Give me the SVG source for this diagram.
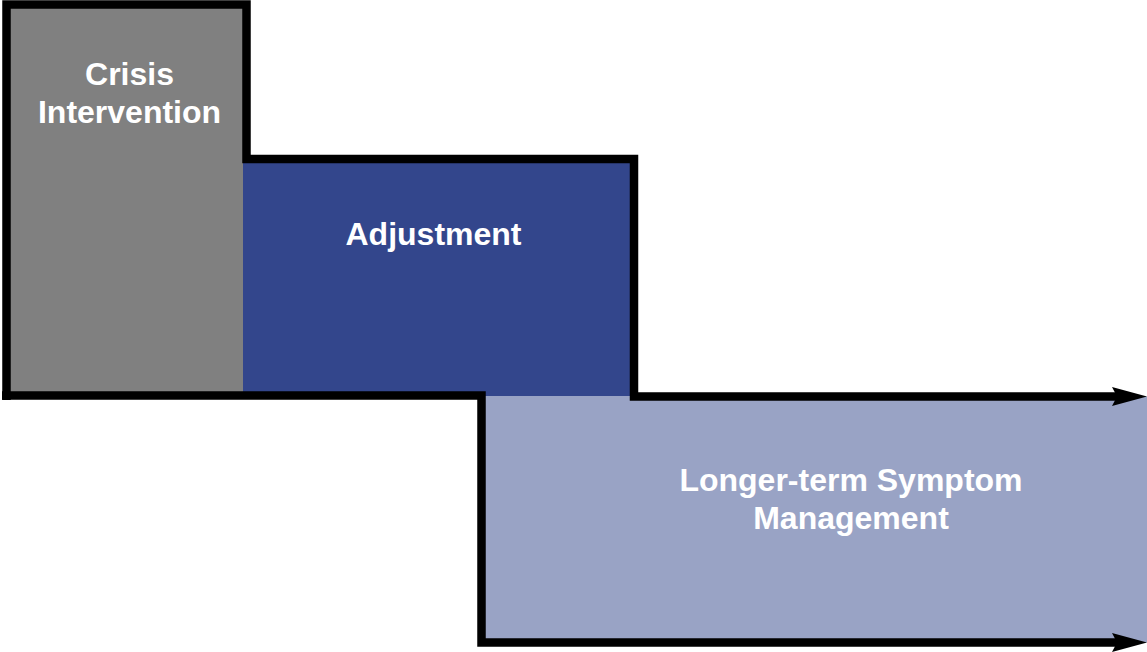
<svg xmlns="http://www.w3.org/2000/svg" width="1147" height="652" viewBox="0 0 1147 652">
<style>
.lbl{font-family:"Liberation Sans",Arial,sans-serif;font-weight:bold;font-size:32px;fill:#ffffff;text-anchor:middle}
.edge{fill:none;stroke:#000000;stroke-width:8.5;stroke-linejoin:miter}
</style>
<defs>
<marker id="arrow" markerUnits="userSpaceOnUse" markerWidth="36" markerHeight="20" refX="5" refY="9.5" orient="auto" viewBox="0 0 36 20">
<path d="M0,0 L35,9.5 L0,19 L5,9.5 Z" fill="#000000"/>
</marker>
</defs>
<rect width="1147" height="652" fill="#ffffff"/>
<g id="crisis">
<rect x="6.5" y="4.5" width="240" height="391" fill="#808080"/>
<text class="lbl" x="129.5" y="85">Crisis</text>
<text class="lbl" x="129.5" y="123">Intervention</text>
</g>
<g id="adjustment">
<rect x="243" y="163" width="391" height="233.5" fill="#33468C"/>
<text class="lbl" x="433.5" y="245">Adjustment</text>
</g>
<g id="longer-term">
<rect x="481.5" y="396.5" width="665.5" height="246" fill="#99A3C5"/>
<text class="lbl" x="851" y="491">Longer-term Symptom</text>
<text class="lbl" x="851" y="529">Management</text>
</g>
<g id="connectors">
<path class="edge" d="M6.5,400 V4.5 H246.5 V159 H634 V396.5 H1117" marker-end="url(#arrow)"/>
<path class="edge" d="M2,395.5 H481.5 V642.5 H1117" marker-end="url(#arrow)"/>
</g>
</svg>
